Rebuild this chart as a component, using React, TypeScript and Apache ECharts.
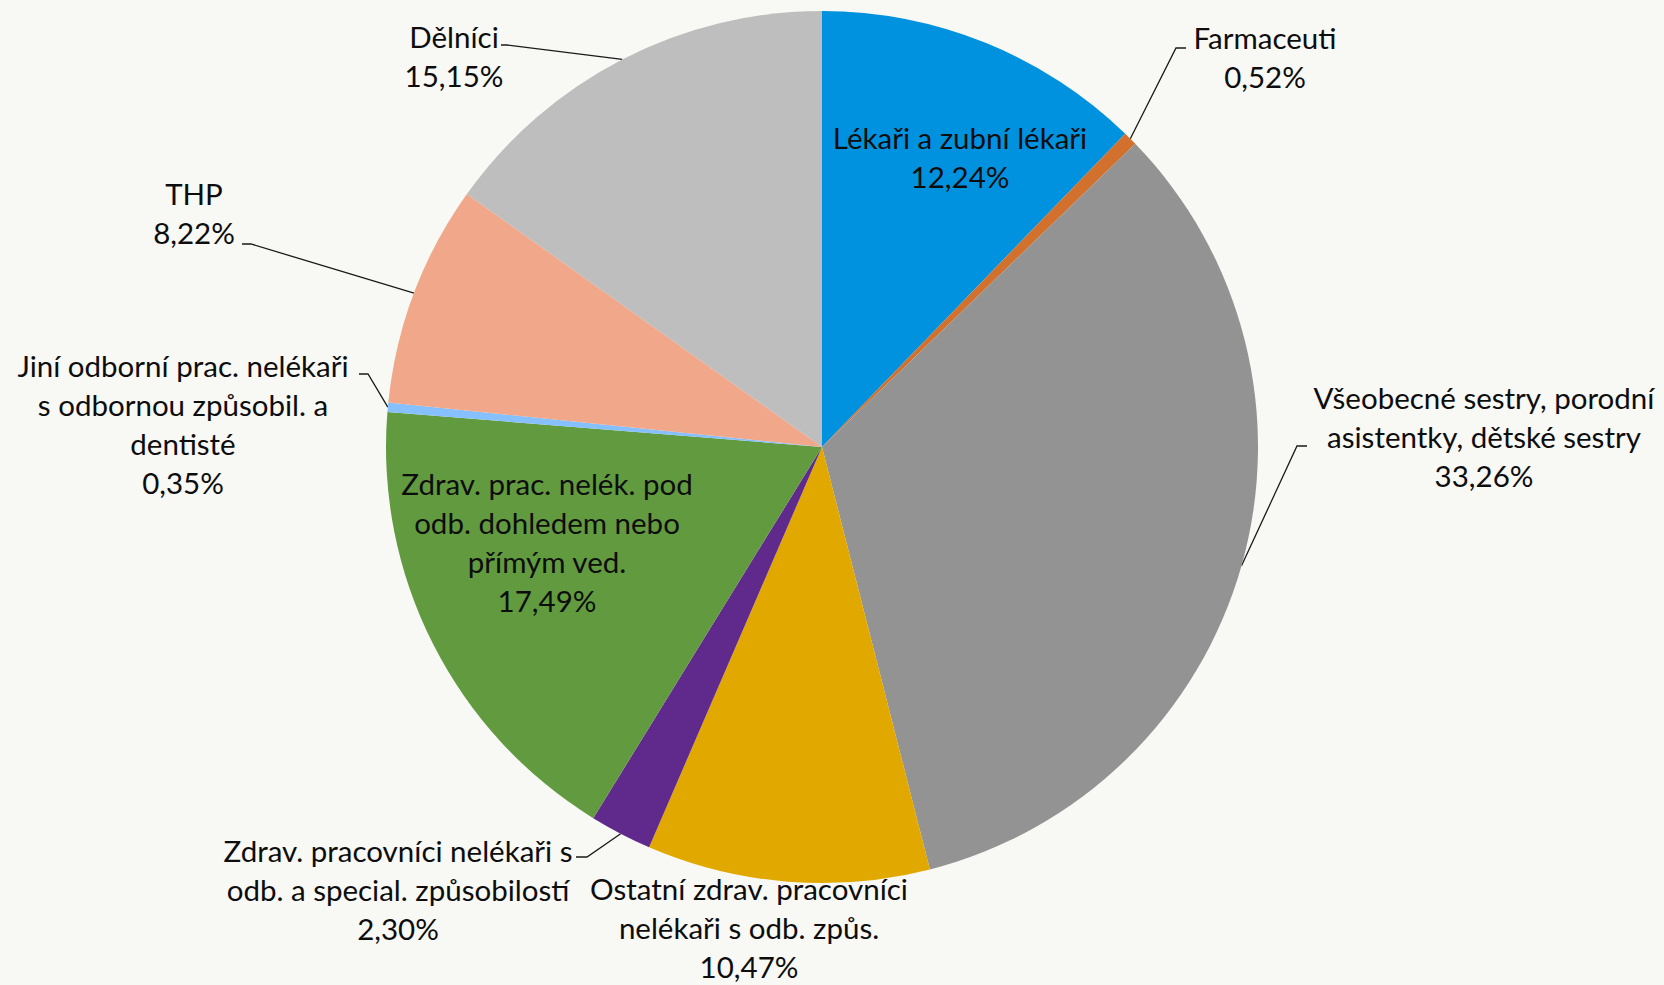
import React, { useEffect, useRef } from "react";
import * as echarts from "echarts";

// ---- data ----
const categories: string[] = [
  "Lékaři a zubní lékaři",
  "Farmaceuti",
  "Všeobecné sestry, porodní asistentky, dětské sestry",
  "Ostatní zdrav. pracovníci nelékaři s odb. způs.",
  "Zdrav. pracovníci nelékaři s odb. a special. způsobilostí",
  "Zdrav. prac. nelék. pod odb. dohledem nebo přímým ved.",
  "Jiní odborní prac. nelékaři s odbornou způsobil. a dentisté",
  "THP",
  "Dělníci",
];
const shares: number[] = [12.24, 0.52, 33.26, 10.47, 2.3, 17.49, 0.35, 8.22, 15.15];
const labelTexts: string[] = [
  "Lékaři a zubní lékaři",
  "Farmaceuti",
  "Všeobecné sestry, porodní\nasistentky, dětské sestry",
  "Ostatní zdrav. pracovníci\nnelékaři s odb. způs.",
  "Zdrav. pracovníci nelékaři s\nodb. a special. způsobilostí",
  "Zdrav. prac. nelék. pod\nodb. dohledem nebo\npřímým ved.",
  "Jiní odborní prac. nelékaři\ns odbornou způsobil. a\ndentisté",
  "THP",
  "Dělníci",
];
const colors: string[] = [
  "#0092DF",
  "#D2702D",
  "#939393",
  "#E1A900",
  "#5F2A8B",
  "#629A3F",
  "#86C0FF",
  "#F0A78A",
  "#BEBEBE",
];

// ---- layout (label placement, px) ----
type LabelPlace = { cx: number; top: number; inside?: boolean; noLine?: boolean; bend?: [number, number]; end?: [number, number] };
const labelPlaces: LabelPlace[] = [
  { cx: 960, top: 118, inside: true },
  { cx: 1265, top: 18, bend: [1176, 48], end: [1186, 48] },
  { cx: 1484, top: 378, bend: [1297, 446], end: [1307, 446] },
  { cx: 749, top: 869, noLine: true },
  { cx: 398, top: 831, bend: [587, 857], end: [576, 857] },
  { cx: 547, top: 464, inside: true },
  { cx: 183, top: 346, bend: [368, 374], end: [359, 374] },
  { cx: 194, top: 174, bend: [251, 244], end: [242, 244] },
  { cx: 454, top: 17, bend: [507, 45], end: [501, 45] },
];

const FONT = "Lato, 'Noto Sans', sans-serif";

export default function App() {
  const ref = useRef<HTMLDivElement>(null);
  useEffect(() => {
    if (!ref.current) return;
    const chart = echarts.init(ref.current, null, { renderer: "svg" });
    const data = categories.map((name, i) => ({
      name,
      value: shares[i],
      itemStyle: { color: colors[i] },
      label: { position: labelPlaces[i].inside ? "inside" : "outside" },
      labelLine: { show: !labelPlaces[i].inside && !labelPlaces[i].noLine },
    }));
    chart.setOption({
      animation: false,
      backgroundColor: "#F8F8F4",
      series: [
        {
          type: "pie",
          center: [822, 447],
          radius: 436,
          startAngle: 90,
          clockwise: true,
          avoidLabelOverlap: false,
          itemStyle: { borderWidth: 0 },
          label: {
            show: true,
            fontFamily: FONT,
            fontSize: 29.5,
            lineHeight: 39,
            color: "#0d0d0d",
            align: "center",
            formatter: (p: any) =>
              labelTexts[p.dataIndex] + "\n" + shares[p.dataIndex].toFixed(2).replace(".", ",") + "%",
          },
          labelLine: {
            show: true,
            length: 20,
            length2: 10,
            smooth: false,
            lineStyle: { color: "#1a1a1a", width: 1.3 },
          },
          labelLayout: (params: any) => {
            const pl = labelPlaces[params.dataIndex];
            const res: any = { x: pl.cx, y: pl.top, align: "center", verticalAlign: "top" };
            if (pl.bend && pl.end && params.labelLinePoints) {
              const start = params.labelLinePoints[0];
              res.labelLinePoints = [[start[0], start[1]], pl.bend, pl.end];
            }
            return res;
          },
          data,
        },
      ],
    });
    return () => chart.dispose();
  }, []);
  return (
    <div
      ref={ref}
      style={{ position: "fixed", left: 0, top: 0, width: 1664, height: 985 }}
    />
  );
}
